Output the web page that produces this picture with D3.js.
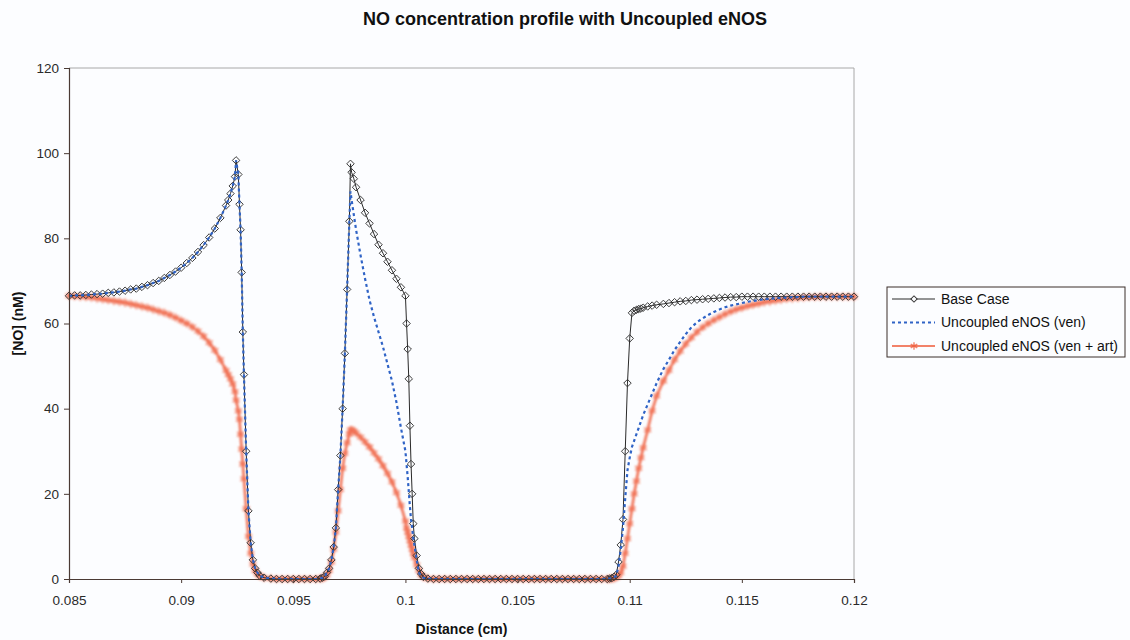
<!DOCTYPE html>
<html>
<head>
<meta charset="utf-8">
<script src="https://cdn.jsdelivr.net/npm/d3@7"></script>
<style>
  body { margin: 0; background: #fcfdff; }
  svg { display: block; font-family: "Liberation Sans", Arial, sans-serif; }
</style>
</head>
<body>
<script>
// distance grid (cm), shared by the three series
const distance = [
  0.085, 0.08525, 0.0855, 0.08575, 0.086, 0.08625, 0.0865, 0.08675, 0.087, 0.08725,
  0.0875, 0.08775, 0.088, 0.08825, 0.0885, 0.08875, 0.089, 0.08925, 0.0895, 0.08975,
  0.09, 0.09025, 0.0905, 0.09075, 0.091, 0.09125, 0.0915, 0.09175, 0.092,
  0.0921, 0.0922, 0.0923, 0.0924, 0.09245,
  0.09255, 0.0926, 0.09265, 0.0927, 0.09275, 0.0928, 0.0929, 0.093, 0.0931, 0.0932, 0.0933, 0.0934, 0.0935, 0.0937, 0.094,
  0.09425, 0.0945, 0.09475, 0.095, 0.09525, 0.0955, 0.09575, 0.096,
  0.0962, 0.0963, 0.0964, 0.0965, 0.0966, 0.0967, 0.0968, 0.0969, 0.097, 0.0971, 0.0972, 0.0973, 0.0974, 0.0975, 0.09755,
  0.0976, 0.0977, 0.0978, 0.098, 0.0982, 0.0984, 0.0986, 0.0988, 0.099, 0.0992, 0.0994, 0.0996, 0.0998,
  0.1, 0.10005, 0.1001, 0.10015, 0.1002, 0.10025, 0.1003, 0.10035, 0.1004, 0.1005, 0.1006, 0.1007, 0.1008, 0.101,
  0.10125, 0.1015, 0.10175, 0.102, 0.10225, 0.1025, 0.10275, 0.103, 0.10325, 0.1035, 0.10375, 0.104, 0.10425, 0.1045, 0.10475, 0.105,
  0.10525, 0.1055, 0.10575, 0.106, 0.10625, 0.1065, 0.10675, 0.107, 0.10725, 0.1075, 0.10775, 0.108, 0.10825, 0.1085, 0.10875, 0.109,
  0.1091, 0.1092, 0.1093, 0.1094, 0.1095, 0.1096, 0.1097, 0.1098, 0.1099, 0.11, 0.1101, 0.1102, 0.1103, 0.1104, 0.1105, 0.1106, 0.1108, 0.111, 0.1112,
  0.1115, 0.11175, 0.112, 0.11225, 0.1125, 0.11275, 0.113, 0.11325, 0.1135, 0.11375, 0.114, 0.11425, 0.1145, 0.11475, 0.115,
  0.11525, 0.1155, 0.11575, 0.116, 0.11625, 0.1165, 0.11675, 0.117, 0.11725, 0.1175, 0.11775, 0.118, 0.11825, 0.1185, 0.11875,
  0.119, 0.11925, 0.1195, 0.11975, 0.12
];

// [NO] (nM)
const baseCase = [
  66.5, 66.6, 66.6, 66.7, 66.8, 66.9, 67.0, 67.2, 67.3, 67.5,
  67.7, 68.0, 68.2, 68.6, 69.0, 69.5, 70.0, 70.7, 71.4, 72.2,
  73.1, 74.2, 75.4, 76.8, 78.4, 80.2, 82.3, 84.8, 87.7,
  89.0, 90.5, 92.3, 94.5, 98.3,
  95, 88, 82, 72, 58, 48, 30, 16, 8.5, 4.5, 2.5, 1.5, 0.8, 0.3, 0.1,
  0, 0, 0, 0, 0, 0, 0, 0,
  0.1, 0.3, 0.6, 1.5, 2.5, 4.5, 7.5, 12, 21, 29, 40, 53, 68, 84, 97.5,
  95.5, 94, 92, 89, 86, 83.5, 81, 78.5, 76.5, 74.5, 72.5, 70.5, 68.5,
  66.5, 60, 54, 47, 36, 27, 20, 13, 9.5, 5.5, 2.5, 1.2, 0.5, 0.1,
  0, 0, 0, 0, 0, 0, 0, 0, 0, 0, 0, 0, 0, 0, 0, 0,
  0, 0, 0, 0, 0, 0, 0, 0, 0, 0, 0, 0, 0, 0, 0, 0,
  0.1, 0.2, 0.5, 1, 4, 8, 14, 30, 46, 56.5, 62.5, 63, 63.2, 63.4, 63.5, 63.7, 64, 64.2, 64.4,
  64.6, 64.8, 65.0, 65.2, 65.3, 65.5, 65.6, 65.7, 65.8, 65.9, 66.0, 66.1, 66.2, 66.2, 66.3,
  66.3, 66.3, 66.3, 66.3, 66.3, 66.3, 66.3, 66.3, 66.3, 66.3, 66.3, 66.3, 66.3, 66.3, 66.3,
  66.3, 66.3, 66.3, 66.3, 66.3
];

const uncoupledVen = [
  66.5, 66.6, 66.6, 66.7, 66.8, 66.9, 67.0, 67.2, 67.3, 67.5,
  67.7, 68.0, 68.2, 68.6, 69.0, 69.5, 70.0, 70.7, 71.4, 72.2,
  73.1, 74.2, 75.4, 76.8, 78.4, 80.2, 82.3, 84.8, 87.7,
  89.0, 90.5, 92.3, 94.5, 98.3,
  95, 88, 82, 72, 58, 48, 30, 16, 8.5, 4.5, 2.5, 1.5, 0.8, 0.3, 0.1,
  0, 0, 0, 0, 0, 0, 0, 0,
  0.1, 0.3, 0.6, 1.5, 2.5, 4.5, 7.5, 12, 21, 29, 40, 53, 68, 84, 91,
  89, 85.5, 82, 76, 70.5, 65.5, 61.5, 58, 54.5, 50.5, 46.5, 41.5, 35.5,
  30, 27, 24, 20.5, 17, 14, 12, 9.5, 8, 4.5, 1.5, 0.7, 0.3, 0.1,
  0, 0, 0, 0, 0, 0, 0, 0, 0, 0, 0, 0, 0, 0, 0, 0,
  0, 0, 0, 0, 0, 0, 0, 0, 0, 0, 0, 0, 0, 0, 0, 0,
  0.1, 0.2, 0.4, 0.8, 3, 7, 12, 19, 25.5, 28.5, 31, 32.5, 34, 35.5, 37, 38.5, 41, 43.5, 46,
  49.3, 51.5, 53.8, 55.7, 57.5, 59.1, 60.3, 61.2, 62.0, 62.7, 63.3, 63.8, 64.2, 64.5, 64.8,
  65.1, 65.3, 65.5, 65.7, 65.8, 65.9, 66.0, 66.1, 66.2, 66.2, 66.3, 66.3, 66.3, 66.3, 66.3,
  66.3, 66.3, 66.3, 66.3, 66.3
];

const uncoupledVenArt = [
  66.5, 66.4, 66.3, 66.2, 66.1, 65.9, 65.7, 65.5, 65.3, 65.1,
  64.9, 64.6, 64.3, 64.0, 63.7, 63.3, 62.9, 62.5, 62.0, 61.4,
  60.7, 60.0, 59.2, 58.2, 57.0, 55.5, 53.7, 51.5, 49.0,
  48.0, 47.0, 45.8, 44.0, 42.0,
  39.5, 37.5, 34, 30.5, 27, 23.5, 16.5, 10, 6, 3.5, 2, 1.2, 0.7, 0.3, 0.1,
  0, 0, 0, 0, 0, 0, 0, 0,
  0.1, 0.2, 0.4, 1, 2, 4, 7, 11, 16, 21, 26, 29.5, 32, 34, 35,
  35, 34.8, 34.3, 33.3, 32.2, 31, 29.6, 28.2, 26.6, 24.8, 22.8, 20.3, 17.3,
  13.6, 12, 11, 10, 9, 8, 7, 6, 5, 3.3, 2, 1, 0.5, 0.1,
  0, 0, 0, 0, 0, 0, 0, 0, 0, 0, 0, 0, 0, 0, 0, 0,
  0, 0, 0, 0, 0, 0, 0, 0, 0, 0, 0, 0, 0, 0, 0, 0,
  0, 0.1, 0.2, 0.4, 0.8, 1.5, 3, 6, 9.5, 13, 16.5, 20, 23, 26, 28.5, 30.8, 35, 39.5, 43,
  46.5, 49, 51.5, 53.5, 55.2, 56.7, 58.0, 59.1, 60.0, 60.8, 61.5, 62.2, 62.8, 63.3, 63.7,
  64.1, 64.4, 64.7, 65.0, 65.2, 65.4, 65.6, 65.8, 65.9, 66.0, 66.1, 66.2, 66.2, 66.3, 66.3,
  66.3, 66.3, 66.3, 66.3, 66.3
];

const seriesNames = ["Base Case", "Uncoupled eNOS (ven)", "Uncoupled eNOS (ven + art)"];
const yTicks = [0, 20, 40, 60, 80, 100, 120];
const xTicks = [0.085, 0.09, 0.095, 0.1, 0.105, 0.11, 0.115, 0.12];
const xTickLabels = ["0.085", "0.09", "0.095", "0.1", "0.105", "0.11", "0.115", "0.12"];

const width = 1130, height = 640;
const margin = {top: 68, right: 276, bottom: 61, left: 69};
const orange = "#ef5a38", blue = "#2f63c6";

const svg = d3.select("body").append("svg")
  .attr("width", width)
  .attr("height", height);

svg.append("rect").attr("width", width).attr("height", height).attr("fill", "#fcfdff");

const defs = svg.append("defs");
defs.append("filter").attr("id", "soft")
  .attr("x", "-5%").attr("y", "-5%").attr("width", "110%").attr("height", "110%")
  .append("feGaussianBlur").attr("stdDeviation", 1);

const x = d3.scaleLinear()
  .domain([0.085, 0.12])
  .range([margin.left, width - margin.right]);

const y = d3.scaleLinear()
  .domain([0, 120])
  .range([height - margin.bottom, margin.top]);

// plot frame (top and right in light grey)
svg.append("path")
  .attr("d", `M${x(0.085)},${y(120)}H${x(0.12)}V${y(0)}`)
  .attr("fill", "none")
  .attr("stroke", "#a8a8a8")
  .attr("stroke-width", 1);

const series = [baseCase, uncoupledVen, uncoupledVenArt].map((vals, k) =>
  distance.map((d, i) => ({x: d, y: vals[i], k})));

const line = d3.line().x(d => x(d.x)).y(d => y(d.y));

// ven + art : soft orange with star markers
const gArt = svg.append("g").attr("filter", "url(#soft)").attr("opacity", 0.85);
gArt.append("path")
  .attr("d", line(series[2]))
  .attr("fill", "none")
  .attr("stroke", orange)
  .attr("stroke-width", 2.6);
gArt.selectAll("path.m")
  .data(series[2])
  .join("path")
  .attr("class", "m")
  .attr("transform", d => `translate(${x(d.x)},${y(d.y)})`)
  .attr("d", d3.symbol(d3.symbolAsterisk, 45))
  .attr("fill", "none")
  .attr("stroke", orange)
  .attr("stroke-width", 1.5);

// base case : black line with open diamonds
svg.append("path")
  .attr("d", line(series[0]))
  .attr("fill", "none")
  .attr("stroke", "#2a2a2a")
  .attr("stroke-width", 1);
svg.append("g").selectAll("path")
  .data(series[0])
  .join("path")
  .attr("transform", d => `translate(${x(d.x)},${y(d.y)}) rotate(45)`)
  .attr("d", d3.symbol(d3.symbolSquare, 28))
  .attr("fill", "none")
  .attr("stroke", "#333")
  .attr("stroke-width", 0.9);

// ven : blue dotted line
svg.append("path")
  .attr("d", line(series[1]))
  .attr("fill", "none")
  .attr("stroke", blue)
  .attr("stroke-width", 2.2)
  .attr("stroke-dasharray", "3,3");

// axes
const xAxis = svg.append("g")
  .attr("transform", `translate(0,${y(0)})`)
  .call(d3.axisBottom(x).tickValues(xTicks).tickSize(4).tickPadding(12)
    .tickFormat((d, i) => xTickLabels[i]));
const yAxis = svg.append("g")
  .attr("transform", `translate(${x(0.085)},0)`)
  .call(d3.axisLeft(y).tickValues(yTicks).tickSize(5).tickPadding(5));

[xAxis, yAxis].forEach(g => {
  g.select(".domain").attr("stroke", "#4a3a34").attr("stroke-width", 1.2);
  g.selectAll(".tick line").attr("stroke", "#4a3a34");
  g.selectAll(".tick text")
    .attr("fill", "#2a2a2a")
    .style("font-size", "13.5px")
    .style("font-family", "'Liberation Sans', Arial, sans-serif");
});

// titles
svg.append("text")
  .attr("x", 565).attr("y", 25)
  .attr("text-anchor", "middle")
  .style("font-size", "18px")
  .style("font-weight", "bold")
  .attr("fill", "#111")
  .text("NO concentration profile with Uncoupled eNOS");

svg.append("text")
  .attr("x", (x(0.085) + x(0.12)) / 2).attr("y", 634)
  .attr("text-anchor", "middle")
  .style("font-size", "14px")
  .style("font-weight", "bold")
  .attr("fill", "#111")
  .text("Distance (cm)");

svg.append("text")
  .attr("transform", `translate(23,${(y(0) + y(120)) / 2}) rotate(-90)`)
  .attr("text-anchor", "middle")
  .style("font-size", "14px")
  .style("font-weight", "bold")
  .attr("fill", "#111")
  .text("[NO] (nM)");

// legend
const legend = svg.append("g").attr("transform", "translate(887,287)");
legend.append("rect")
  .attr("width", 238).attr("height", 70)
  .attr("fill", "#fcfdff")
  .attr("stroke", "#3a2e2a")
  .attr("stroke-width", 1);

const rows = legend.selectAll("g.row")
  .data(seriesNames)
  .join("g")
  .attr("class", "row")
  .attr("transform", (d, i) => `translate(0,${12 + i * 23.5})`);

rows.append("line")
  .attr("x1", 5).attr("x2", 48)
  .attr("stroke", (d, i) => ["#2a2a2a", blue, orange][i])
  .attr("stroke-width", (d, i) => [1, 2.2, 2][i])
  .attr("stroke-dasharray", (d, i) => i === 1 ? "3,3" : null)
  .attr("opacity", (d, i) => i === 2 ? 0.75 : 1);

rows.filter((d, i) => i === 0).append("path")
  .attr("transform", "translate(27,0) rotate(45)")
  .attr("d", d3.symbol(d3.symbolSquare, 20))
  .attr("fill", "#fcfdff")
  .attr("stroke", "#333");

rows.filter((d, i) => i === 2).append("path")
  .attr("transform", "translate(27,0)")
  .attr("d", d3.symbol(d3.symbolAsterisk, 40))
  .attr("fill", "none")
  .attr("stroke", orange)
  .attr("opacity", 0.75)
  .attr("stroke-width", 1.4);

rows.append("text")
  .attr("x", 54).attr("dy", "0.35em")
  .style("font-size", "14px")
  .attr("fill", "#111")
  .text(d => d);
</script>
</body>
</html>
